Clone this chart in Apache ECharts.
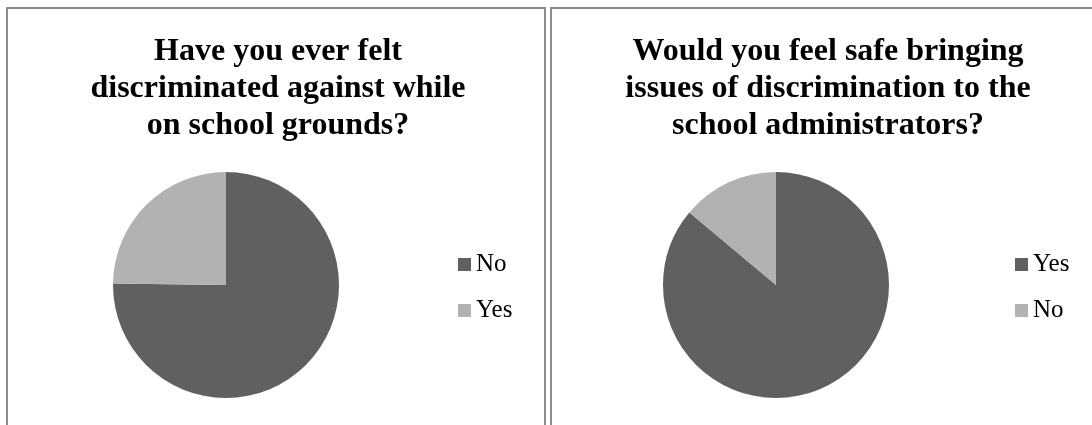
<!DOCTYPE html>
<html>
<head>
<meta charset="utf-8">
<script src="https://cdn.jsdelivr.net/npm/echarts@6/dist/echarts.min.js"></script>
<style>
html,body{margin:0;padding:0;background:#fff;}
#chart{width:1092px;height:425px;}
</style>
</head>
<body>
<div id="chart"></div>
<script>
// Chart 1
const title1 = "Have you ever felt\ndiscriminated against while\non school grounds?";
const categories1 = ["No", "Yes"];
const values1 = [75.2, 24.8];
// Chart 2
const title2 = "Would you feel safe bringing\nissues of discrimination to the\nschool administrators?";
const categories2 = ["Yes", "No"];
const values2 = [86.1, 13.9];

const colors = ["#606060", "#b2b2b2"];
const serif = "'Liberation Serif', 'Times New Roman', serif";

const chart = echarts.init(document.getElementById('chart'), null, {renderer: 'canvas'});

function pieData(cats, vals) {
  return cats.map((c, i) => ({name: c, value: vals[i], itemStyle: {color: colors[i]}}));
}
function legendData(cats) {
  return cats.map((c, i) => ({name: c, itemStyle: {color: colors[i]}}));
}

const titleStyle = {fontFamily: serif, fontWeight: 'bold', fontSize: 32, lineHeight: 37, color: '#000'};
const legendText = {fontFamily: serif, fontSize: 25, lineHeight: 25, color: '#000'};

chart.setOption({
  animation: false,
  backgroundColor: '#fff',
  title: [
    {text: title1, left: 273, top: 28, textAlign: 'center', textStyle: titleStyle},
    {text: title2, left: 823, top: 28, textAlign: 'center', textStyle: titleStyle}
  ],
  legend: [
    {data: legendData(categories1), orient: 'vertical', left: 453, top: 247, icon: 'rect',
     itemWidth: 13, itemHeight: 13, itemGap: 21, textStyle: legendText, selectedMode: false},
    {data: legendData(categories2), orient: 'vertical', left: 1010, top: 247, icon: 'rect',
     itemWidth: 13, itemHeight: 13, itemGap: 21, textStyle: legendText, selectedMode: false}
  ],
  graphic: [
    {type: 'rect', shape: {x: 7, y: 8, width: 538, height: 430}, style: {fill: 'none', stroke: '#8c8c8c', lineWidth: 2}, silent: true},
    {type: 'rect', shape: {x: 551, y: 8, width: 560, height: 430}, style: {fill: 'none', stroke: '#8c8c8c', lineWidth: 2}, silent: true}
  ],
  series: [
    {type: 'pie', name: 'q1', center: [226, 285], radius: 113, startAngle: 90, clockwise: true,
     label: {show: false}, labelLine: {show: false}, emphasis: {disabled: true},
     data: pieData(categories1, values1)},
    {type: 'pie', name: 'q2', center: [776, 285], radius: 113, startAngle: 90, clockwise: true,
     label: {show: false}, labelLine: {show: false}, emphasis: {disabled: true},
     data: pieData(categories2, values2)}
  ]
});
</script>
</body>
</html>
